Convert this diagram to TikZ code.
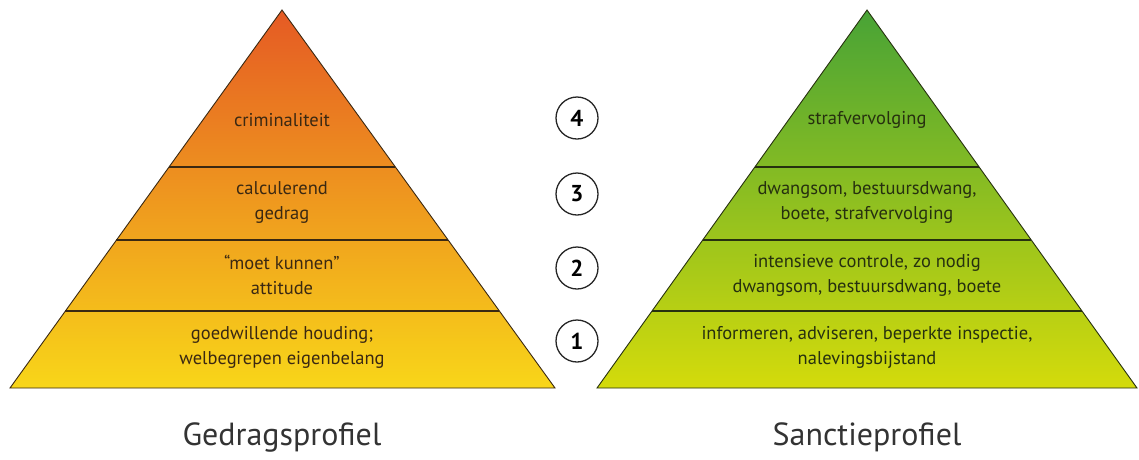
\documentclass[tikz,border=0pt]{standalone}
\usepackage{fontspec}
\setmainfont{PT Sans}
\usetikzlibrary{positioning,calc}

\definecolor{redorange}{HTML}{E55A24}
\definecolor{midorange}{HTML}{F2A233}
\definecolor{sunyellow}{HTML}{F8D619}
\definecolor{leafgreen}{HTML}{48A336}
\definecolor{midgreen}{HTML}{8CBA2B}
\definecolor{limeyellow}{HTML}{D4DB0B}
\definecolor{inkbrown}{HTML}{3A2812}
\definecolor{inkgreen}{HTML}{26300F}

\begin{document}
\begin{tikzpicture}[x=1pt,y=-1pt,
    layer/.style={align=center,font=\fontsize{18.5}{25}\selectfont},
    num/.style={circle,draw=black!85,line width=1.3pt,minimum size=42pt,inner sep=0pt,
                font=\fontsize{23}{23}\selectfont\bfseries},
    caption/.style={font=\fontsize{32}{36}\selectfont,text=black!80},
    sep/.style={draw=inkbrown,line width=1.1pt}]
   \useasboundingbox (0,0) rectangle (1139,459);

   % gedragsprofiel
   \coordinate (gtop) at (282,10);
   \coordinate (gleft) at (10,388);
   \coordinate (gright) at (555,388);
   \shade[top color=redorange,middle color=midorange,bottom color=sunyellow]
      (gtop) -- (gright) -- (gleft) -- cycle;
   \foreach \f in {0.4153,0.6085,0.7963}
      \draw[sep] ($(gtop)!\f!(gleft)$) -- ($(gtop)!\f!(gright)$);
   \draw[draw=inkbrown,line width=0.9pt] (gtop) -- (gright) -- (gleft) -- cycle;

   % sanctieprofiel
   \coordinate (stop) at (867,10);
   \coordinate (sleft) at (597,388);
   \coordinate (sright) at (1137,388);
   \shade[top color=leafgreen,middle color=midgreen,bottom color=limeyellow]
      (stop) -- (sright) -- (sleft) -- cycle;
   \foreach \f in {0.4153,0.6085,0.7963}
      \draw[sep,draw=inkgreen] ($(stop)!\f!(sleft)$) -- ($(stop)!\f!(sright)$);
   \draw[draw=inkgreen,line width=0.9pt] (stop) -- (sright) -- (sleft) -- cycle;

   % texts
   \node[layer,text=inkbrown] (crim) at (282,120) {criminaliteit};
   \node[layer,text=inkbrown] (calc) at (282,202) {calculerend\\gedrag};
   \node[layer,text=inkbrown] (moet) at (282,275) {\textquotedblleft moet kunnen\textquotedblright\\attitude};
   \node[layer,text=inkbrown] (goed) at (282,347) {goedwillende houding;\\welbegrepen eigenbelang};

   \node[layer,text=inkgreen] (straf) at (867,120) {strafvervolging};
   \node[layer,text=inkgreen] (dwang) at (867,202) {dwangsom, bestuursdwang,\\boete, strafvervolging};
   \node[layer,text=inkgreen] (inten) at (867,275) {intensieve controle, zo nodig\\dwangsom, bestuursdwang, boete};
   \node[layer,text=inkgreen] (info) at (867,347) {informeren, adviseren, beperkte inspectie,\\nalevingsbijstand};

   % niveaus
   \node[num] (n4) at (577,118) {4};
   \node[num] (n3) at (577,194) {3};
   \node[num] (n2) at (577,268) {2};
   \node[num] (n1) at (577,341) {1};

   \node[caption] (gedrag) at (282,437) {Gedragsprofiel};
   \node[caption] (sanctie) at (867,437) {Sanctieprofiel};
\end{tikzpicture}
\end{document}
